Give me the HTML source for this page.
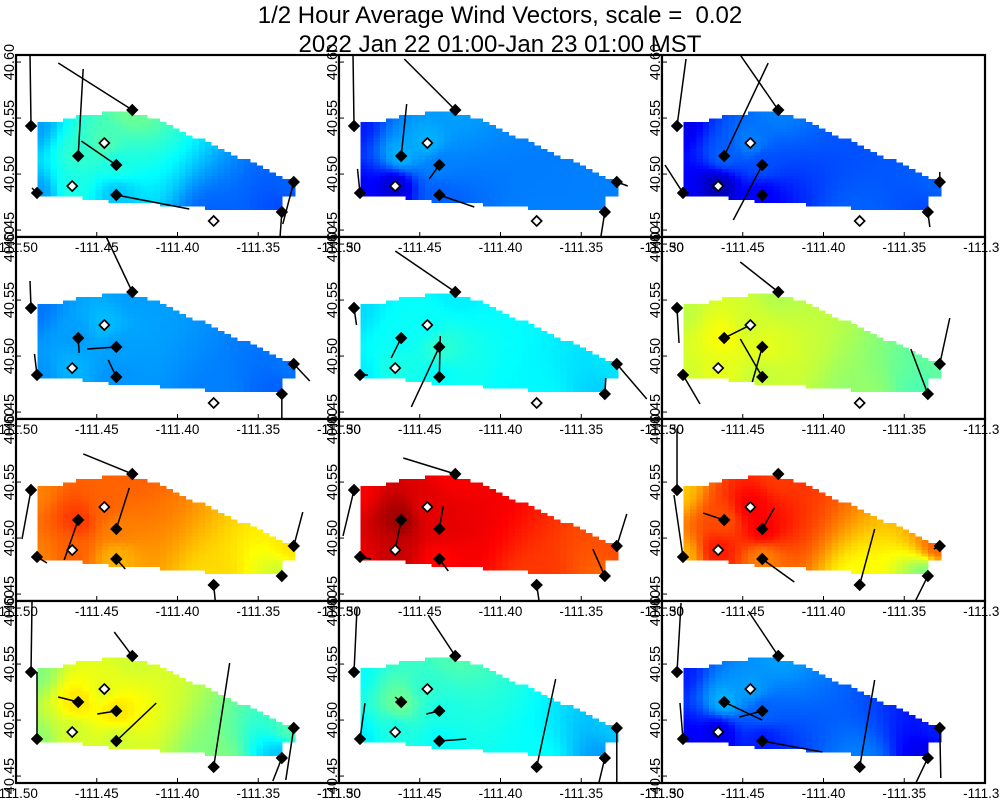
<!DOCTYPE html>
<html><head><meta charset="utf-8">
<style>
html,body{margin:0;padding:0;background:#fff;}
svg{display:block;font-family:"Liberation Sans",sans-serif;}
</style></head>
<body>
<svg id="chart" width="1000" height="800" viewBox="0 0 1000 800" xmlns="http://www.w3.org/2000/svg">
<rect width="1000" height="800" fill="#fff"/>
<text x="500" y="23" text-anchor="middle" font-size="24">1/2 Hour Average Wind Vectors, scale =&#160; 0.02</text>
<text x="500" y="52" text-anchor="middle" font-size="24">2022 Jan 22 01:00-Jan 23 01:00 MST</text>
<g id="panels"></g>
<g id="labels"></g>
</svg>
<script>
// station coordinates
const stationLon = [-111.4907,-111.4870,-111.4615,-111.4652,-111.4453,-111.4379,-111.4280,-111.4379,-111.3776,-111.3354,-111.3280];
const stationLat = [40.5429,40.4831,40.5161,40.4893,40.5277,40.5081,40.5572,40.4813,40.4581,40.4661,40.4929];
// wind vector components (u east, v north) per panel; null = no vector
const windU = [
 [-1,-5,5,null,null,-35,-74,73,null,-2,-11],
 [-1,-2.5,5.5,null,null,-10,-51,35,null,-4,11],
 [9,-18,44,null,null,-29,-38,null,null,2,0],
 [-1,-2.5,1,null,null,-29,-26,-8,null,0,16],
 [2.5,8,-10,null,null,-28,-60,1,null,1,30],
 [2,17,26,null,null,-10,-38,-22,null,-17,10],
 [-9,10,-14,null,null,13,-49,9,2,null,9],
 [-11,11,-6,null,null,4,-52,9,3,-12,10],
 [0,-9,-21,null,null,12,null,32,15,-14,-6],
 [1,0,-20,null,null,-19,-18,40,16,-9,-8],
 [3,5,-6,null,null,-13,-27,27,19,-6,0],
 [4,-3,38,null,null,-23,-30,60,15,-12,1]
];
const windV = [
 [71,5,87,null,null,24,47,-14,null,-28,-42],
 [71,24,52,null,null,-14,51,-12,null,-25,-4],
 [67,28,93,null,null,-55,55,null,null,-15,10],
 [27,21,-15,null,null,-2,55,17,null,-26,-17],
 [-17,0,-20,null,null,-60,41,41,null,16,-35],
 [-35,-29,13,null,null,-35,30,38,null,45,46],
 [-49,-6,-40,null,null,41,20,-10,-20,null,34],
 [-46,-2,-30,null,null,23,16,-12,-20,27,32],
 [62,62,7,null,null,21,null,-23,56,-28,-3],
 [71,67,5,null,null,-3,24,38,104,-23,-52],
 [64,36,5,null,null,-3,41,2,88,-25,-56],
 [69,36,-18,null,null,-6,45,-11,87,-25,-50]
];
// station marker state (1 = filled, 0 = open)
const filled = [
 [1,1,1,0,0,1,1,1,0,1,1],[1,1,1,0,0,1,1,1,0,1,1],[1,1,1,0,0,1,1,1,0,1,1],
 [1,1,1,0,0,1,1,1,0,1,1],[1,1,1,0,0,1,1,1,0,1,1],[1,1,1,0,0,1,1,1,0,1,1],
 [1,1,1,0,0,1,1,1,1,1,1],[1,1,1,0,0,1,1,1,1,1,1],[1,1,1,0,0,1,1,1,1,1,1],
 [1,1,1,0,0,1,1,1,1,1,1],[1,1,1,0,0,1,1,1,1,1,1],[1,1,1,0,0,1,1,1,1,1,1]
];
// normalized field value at each station per panel (jet colour scale 0..1)
const fieldVals = [
 [0.28,0.28,0.42,0.40,0.45,0.40,0.48,0.32,0.22,0.20,0.22],
 [0.15,0.12,0.30,0.08,0.30,0.25,0.28,0.22,0.25,0.25,0.25],
 [0.10,0.12,0.22,0.05,0.25,0.20,0.25,0.12,0.22,0.20,0.22],
 [0.24,0.27,0.28,0.30,0.31,0.28,0.28,0.27,0.25,0.22,0.24],
 [0.34,0.36,0.38,0.40,0.38,0.42,0.36,0.38,0.37,0.33,0.35],
 [0.56,0.58,0.62,0.60,0.58,0.60,0.55,0.57,0.52,0.45,0.47],
 [0.75,0.75,0.82,0.78,0.78,0.75,0.78,0.70,0.66,0.58,0.65],
 [0.88,0.90,0.97,0.93,0.90,0.90,0.88,0.87,0.82,0.78,0.80],
 [0.68,0.70,0.80,0.85,0.88,0.88,0.82,0.75,0.62,0.50,0.78],
 [0.50,0.52,0.65,0.58,0.60,0.65,0.58,0.58,0.50,0.32,0.45],
 [0.38,0.36,0.48,0.40,0.42,0.40,0.45,0.38,0.38,0.28,0.32],
 [0.15,0.12,0.30,0.10,0.28,0.22,0.28,0.15,0.25,0.10,0.15]
];
const xTicks = [-111.50,-111.45,-111.40,-111.35,-111.30];
const xTickLabels = ["-111.50","-111.45","-111.40","-111.35","-111.30"];
const yTicks = [40.60,40.55,40.50,40.45];
const yTickLabels = ["40.60","40.55","40.50","40.45"];

const NS="http://www.w3.org/2000/svg";
const colX=[16,339,662], rowY=[55,237,419,601], PW=323, PH=182;
const lonMin=-111.5, lonMax=-111.3, latMin=40.4438, latMax=40.6063;
// domain outline (panel-relative px)
const outline=[[19,69],[33,67],[53,64],[66,61],[81,59],[100,56],[116,57],[127,61],[147,67],[174,80],[201,92],[221,101],[247,113],[261,120],[267,124],[276,125],[276,142],[267,142],[267,156],[234,156],[194,153],[127,148],[94,146],[61,142],[33,140],[19,140]];
function inPoly(x,y){let c=false;for(let i=0,j=outline.length-1;i<outline.length;j=i++){const[xi,yi]=outline[i],[xj,yj]=outline[j];if(((yi>y)!=(yj>y))&&(x<(xj-xi)*(y-yi)/(yj-yi)+xi))c=!c;}return c;}
function jet(v){const cl=t=>Math.max(0,Math.min(1,t));const r=cl(1.5-Math.abs(4*v-3)),g=cl(1.5-Math.abs(4*v-2)),b=cl(1.5-Math.abs(4*v-1));return `rgb(${Math.round(r*255)},${Math.round(g*255)},${Math.round(b*255)})`;}
function mk(tag,attrs,parent){const e=document.createElementNS(NS,tag);for(const k in attrs)e.setAttribute(k,attrs[k]);parent.appendChild(e);return e;}
const panelsG=document.getElementById('panels'), labelsG=document.getElementById('labels');

for(let p=0;p<12;p++){
  const ox=colX[p%3], oy=rowY[Math.floor(p/3)];
  const xS=lon=>ox+(lon-lonMin)/(lonMax-lonMin)*PW;
  const yS=lat=>oy+(latMax-lat)/(latMax-latMin)*PH;
  const g=mk('g',{},panelsG);
  
  
  const bg=mk('rect',{x:ox,y:oy,width:PW,height:PH,fill:'#fff'},g);
  
  
  const fg=mk('g',{'shape-rendering':'crispEdges'},g);
  
  
  const sx=stationLon.map(xS), sy=stationLat.map(yS);
  const cw=6.44, ch=3.37;
  for(let cy=oy+50;cy<oy+160;cy+=ch){
    for(let cx=ox+15;cx<ox+280;cx+=cw){
      const mx=cx+cw/2, my=cy+ch/2;
      if(!inPoly(mx-ox,my-oy))continue;
      let ws=0,vs=0;
      for(let s=0;s<sx.length;s++){const d2=(mx-sx[s])**2+(my-sy[s])**2+25;const w=1/(d2*Math.sqrt(d2)/40);ws+=w;vs+=w*fieldVals[p][s];}
      const cell=mk('rect',{x:cx.toFixed(2),y:cy.toFixed(2),width:(cw+0.4).toFixed(2),height:(ch+0.4).toFixed(2),fill:jet(vs/ws)},fg);
      
      
    }
  }
  for(let s=0;s<stationLon.length;s++){
    if(windU[p][s]===null)continue;
    const ln=mk('line',{x1:sx[s],y1:sy[s],x2:sx[s]+windU[p][s],y2:sy[s]-windV[p][s],stroke:'#000','stroke-width':1.5},g);
    
    
  }
  for(let s=0;s<stationLon.length;s++){
    const r=5,x=sx[s],y=sy[s];
    const d=mk('polygon',{points:`${x},${y-r} ${x+r},${y} ${x},${y+r} ${x-r},${y}`,fill:filled[p][s]?'#000':'#fff',stroke:'#000','stroke-width':1.7},g);
    
    
  }
  xTicks.forEach(t=>{const tk=mk('line',{x1:xS(t),x2:xS(t),y1:oy+PH,y2:oy+PH-5,stroke:'#000','stroke-width':1},g);
    
    });
  yTicks.forEach(t=>{const tk=mk('line',{x1:ox,x2:ox+5,y1:yS(t),y2:yS(t),stroke:'#000','stroke-width':1},g);
    
    });
  const bd=mk('rect',{x:ox,y:oy,width:PW,height:PH,fill:'none',stroke:'#000','stroke-width':2.2},g);
  
  
  xTicks.forEach((t,i)=>{const tx=mk('text',{x:xS(t),y:oy+PH+15,'text-anchor':'middle','font-size':13.5},labelsG);tx.textContent=xTickLabels[i];
    
    });
  yTicks.forEach((t,i)=>{const yy=yS(t);const tx=mk('text',{x:ox-2,y:yy,'text-anchor':'middle','font-size':14.5,transform:`rotate(-90 ${ox-2} ${yy})`},labelsG);tx.textContent=yTickLabels[i];
    
    });
}
</script>
</body></html>
